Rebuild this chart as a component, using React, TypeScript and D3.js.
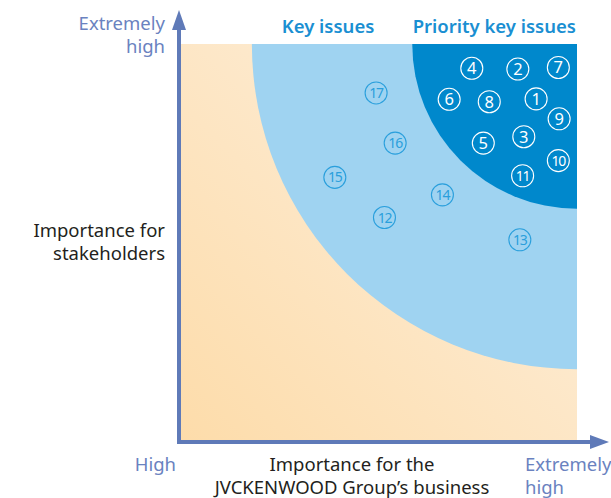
import * as d3 from "d3";
import { useEffect, useRef } from "react";

// issue numbers and positions (0-100 = High .. Extremely high)
const issueIds = [1, 2, 3, 4, 5, 6, 7, 8, 9, 10, 11, 12, 13, 14, 15, 16, 17];
const bizImportance = [89.7, 85.1, 86.6, 73.5, 76.4, 67.8, 95.3, 77.9, 95.5, 95.3, 86.3, 51.5, 85.6, 66.1, 39.0, 54.2, 49.4];
const stakeImportance = [86.2, 93.7, 76.7, 93.9, 75.1, 86.1, 94.1, 85.5, 81.2, 70.7, 66.9, 56.4, 50.8, 62.1, 66.5, 75.1, 87.7];
const priorityIds = [1, 2, 3, 4, 5, 6, 7, 8, 9, 10, 11];
// radius of the zones, measured from the top-right corner
const zoneNames = ["Key issues", "Priority key issues"];
const zoneRadius = [81.9, 41.5];

const FONT = "'Noto Sans', 'Open Sans', sans-serif";

const App = () => {
	const chartRef = useRef(null);

	useEffect(() => {
		const svg = d3.select(chartRef.current);
		svg.selectAll("*").remove();

		const margin = { top: 44, left: 180, right: 34, bottom: 56 };
		const width = 611, height = 498;

		const x = d3.scaleLinear().domain([0, 100]).range([margin.left, width - margin.right]);
		const y = d3.scaleLinear().domain([0, 100]).range([height - margin.bottom, margin.top]);

		const defs = svg.append("defs");
		const grad = defs.append("linearGradient")
			.attr("id", "bg")
			.attr("x1", "0").attr("y1", "1").attr("x2", "1").attr("y2", "0");
		grad.append("stop").attr("offset", "0").attr("stop-color", "#fddcaa");
		grad.append("stop").attr("offset", "1").attr("stop-color", "#fdf1e2");

		defs.append("clipPath").attr("id", "plot")
			.append("rect")
			.attr("x", x(0)).attr("y", y(100))
			.attr("width", x(100) - x(0)).attr("height", y(0) - y(100));

		svg.append("rect")
			.attr("x", x(0)).attr("y", y(100))
			.attr("width", x(100) - x(0)).attr("height", y(0) - y(100))
			.attr("fill", "url(#bg)");

		const zones = svg.append("g").attr("clip-path", "url(#plot)");
		const zoneColors = ["#9fd3f1", "#0088cc"];
		zoneRadius.forEach((r, i) => {
			zones.append("circle")
				.attr("cx", x(100)).attr("cy", y(100))
				.attr("r", x(r) - x(0))
				.attr("fill", zoneColors[i]);
		});

		// zone titles
		svg.append("text")
			.attr("x", x(100 - (zoneRadius[0] + zoneRadius[1]) / 2) - 4).attr("y", 33)
			.attr("text-anchor", "middle")
			.style("font-family", FONT).style("font-size", "18.5px").style("font-weight", 600)
			.style("fill", "#1a8fd2")
			.text(zoneNames[0]);
		svg.append("text")
			.attr("x", x(100) - 1).attr("y", 33)
			.attr("text-anchor", "end")
			.style("font-family", FONT).style("font-size", "18.5px").style("font-weight", 600)
			.style("fill", "#1a8fd2")
			.text(zoneNames[1]);

		// numbered issues
		const issues = issueIds.map((id, i) => ({ id, bx: bizImportance[i], sy: stakeImportance[i], pri: priorityIds.includes(id) }));
		const g = svg.append("g").selectAll("g").data(issues).enter().append("g")
			.attr("transform", d => `translate(${x(d.bx)},${y(d.sy)})`);
		g.append("circle")
			.attr("r", 11)
			.attr("fill", "none")
			.attr("stroke", d => d.pri ? "#ffffff" : "#2a9fdc")
			.attr("stroke-width", 1.1);
		g.append("text")
			.attr("text-anchor", "middle")
			.attr("dy", "0.36em")
			.style("font-family", FONT)
			.style("font-size", d => d.id >= 10 ? "14px" : "16.5px")
			.style("letter-spacing", d => d.id >= 10 ? "-1.2px" : "0")
			.style("fill", d => d.pri ? "#ffffff" : "#2a9fdc")
			.text(d => d.id);

		// axes with arrows
		const axisColor = "#5f7ab8";
		svg.append("line")
			.attr("x1", x(0) - 1).attr("x2", x(0) - 1)
			.attr("y1", y(0) + 2).attr("y2", 26)
			.attr("stroke", axisColor).attr("stroke-width", 4);
		svg.append("path")
			.attr("d", `M${x(0) - 1},10 L${x(0) + 6},30 L${x(0) - 8},30 Z`)
			.attr("fill", axisColor);
		svg.append("line")
			.attr("x1", x(0) - 3).attr("x2", 594)
			.attr("y1", y(0)).attr("y2", y(0))
			.attr("stroke", axisColor).attr("stroke-width", 4);
		svg.append("path")
			.attr("d", `M609,${y(0)} L590,${y(0) - 7} L590,${y(0) + 7} Z`)
			.attr("fill", axisColor);

		const label = (lines, xp, yp, anchor, color) => {
			const t = svg.append("text")
				.attr("x", xp).attr("y", yp)
				.attr("text-anchor", anchor)
				.style("font-family", FONT).style("font-size", "18.5px")
				.style("fill", color);
			lines.forEach((s, i) => {
				t.append("tspan").attr("x", xp).attr("dy", i === 0 ? 0 : 23).text(s);
			});
		};
		const blueText = "#6a82c0";
		label(["Extremely", "high"], 165, 30, "end", blueText);
		label(["Importance for", "stakeholders"], 165, 237, "end", "#231f20");
		label(["High"], 176, 471, "end", blueText);
		label(["Importance for the", "JVCKENWOOD Group’s business"], 352, 471, "middle", "#231f20");
		label(["Extremely", "high"], 525, 471, "start", blueText);
	}, []);

	return (
		<svg ref={chartRef} width={611} height={498} style={{ position: "absolute", left: 0, top: 0 }}></svg>
	);
};

export default App;
